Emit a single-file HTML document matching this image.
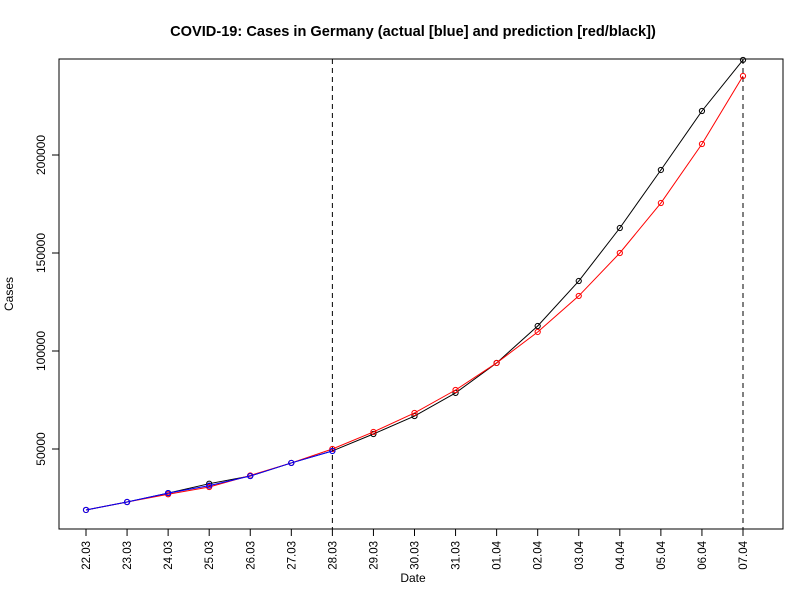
<!DOCTYPE html>
<html><head><meta charset="utf-8"><style>
body{margin:0;background:#fff}
text{font-family:"Liberation Sans",Arial,sans-serif}
</style></head><body>
<svg id="chart" width="800" height="600" xmlns="http://www.w3.org/2000/svg">
<rect width="800" height="600" fill="#fff"/>
<text x="413" y="36" text-anchor="middle" font-size="14.6" font-weight="bold">COVID-19: Cases in Germany (actual [blue] and prediction [red/black])</text>
<text x="413" y="582" text-anchor="middle" font-size="12">Date</text>
<text transform="translate(13,294) rotate(-90)" text-anchor="middle" font-size="12">Cases</text>
<rect x="59" y="59" width="724" height="470" fill="none" stroke="#000" stroke-width="1"/>
<g id="axes"></g>
<g id="marks"></g>
</svg>
<script>
const categories=["22.03","23.03","24.03","25.03","26.03","27.03","28.03","29.03","30.03","31.03","01.04","02.04","03.04","04.04","05.04","06.04","07.04"];
const actual=[18900,22950,27500,31300,36200,42900,49000];
const predRed=[18900,22950,26900,30600,36500,42900,50000,58700,68400,80100,93900,109700,128100,150000,175500,205600,240300];
const predBlack=[18900,22950,27500,32300,36200,42900,49000,57650,66800,78600,93900,112750,135700,162750,192350,222450,248500];
const yTicks=[50000,100000,150000,200000];
const vlines=["28.03","07.04"];
const NS="http://www.w3.org/2000/svg";
const xS=i=>86+i*(743-86)/16;
const yS=v=>449-(v-50000)*98/50000;
const axes=document.getElementById('axes'),marks=document.getElementById('marks');
function mk(tag,attrs,parent){const e=document.createElementNS(NS,tag);for(const k in attrs)e.setAttribute(k,attrs[k]);parent.appendChild(e);return e;}
categories.forEach((c,i)=>{
  const t=mk('line',{x1:xS(i),x2:xS(i),y1:529,y2:536,stroke:'#000'},axes);
  
  
  const l=mk('text',{transform:`translate(${xS(i)+4},541) rotate(-90)`,'text-anchor':'end','font-size':'11.5'},axes);
  l.textContent=c;
  
  
});
yTicks.forEach(v=>{
  const t=mk('line',{x1:52,x2:59,y1:yS(v),y2:yS(v),stroke:'#000'},axes);
  
  
  const l=mk('text',{transform:`translate(45,${yS(v)}) rotate(-90)`,'text-anchor':'middle','font-size':'12'},axes);
  l.textContent=v;
  
  
});
vlines.forEach(c=>{
  const x=xS(categories.indexOf(c));
  const l=mk('line',{x1:x,x2:x,y1:59,y2:529,stroke:'#000','stroke-dasharray':'5,4'},axes);
  
  
});
function series(vals,color,name){
  const pl=mk('polyline',{points:vals.map((v,i)=>xS(i)+','+yS(v)).join(' '),fill:'none',stroke:color,'stroke-width':1},marks);
  
  
  vals.forEach((v,i)=>{
    const c=mk('circle',{cx:xS(i),cy:yS(v),r:2.6,fill:'none',stroke:color,'stroke-width':1},marks);
    
    
  });
}
series(predBlack,'#000','prediction-black');
series(predRed,'#ff0000','prediction-red');
series(actual,'#0000ff','actual-blue');
</script>
</body></html>
